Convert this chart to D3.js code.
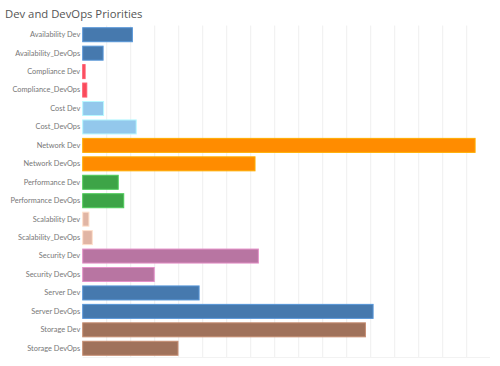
<!DOCTYPE html>
<html><head><meta charset="utf-8">
<script src="https://cdn.jsdelivr.net/npm/d3@7"></script>
<style>body{margin:0;background:#fff}svg{display:block}</style>
</head><body>
<svg id="c" width="500" height="366"></svg>
<script>
const categories = ["Availability Dev","Availability_DevOps","Compliance Dev","Compliance_DevOps","Cost Dev","Cost_DevOps","Network Dev","Network DevOps","Performance Dev","Performance DevOps","Scalability Dev","Scalability_DevOps","Security Dev","Security DevOps","Server Dev","Server DevOps","Storage Dev","Storage DevOps"];
const values = [20.7, 8.5, 1, 1.7, 8.7, 22.3, 163.5, 71.8, 14.8, 17.1, 2.6, 4, 73.2, 29.8, 48.5, 121, 117.8, 39.7];
const groups = ["Availability","Availability","Compliance","Compliance","Cost","Cost","Network","Network","Performance","Performance","Scalability","Scalability","Security","Security","Server","Server","Storage","Storage"];
const groupNames = ["Availability","Compliance","Cost","Network","Performance","Scalability","Security","Server","Storage"];
const groupColors = ["#4679ae","#f94a5a","#93c8ec","#ff8c00","#3da447","#e1b5a4","#b875a2","#4679ae","#a0725b"];
const gridTicks = d3.range(0, 170, 10);

const svg = d3.select("#c");
const mLeft = 82.7, mRight = 490, mTop = 25.5, mBottom = 357.5;
const x = d3.scaleLinear().domain([0, 168]).range([mLeft, mLeft + 168*2.4]);
const y = d3.scaleBand().domain(categories).range([mTop, mBottom]).paddingInner(0.24).paddingOuter(0.12);
const color = d3.scaleOrdinal().domain(groupNames).range(groupColors);

svg.append("text").attr("x", 5).attr("y", 18).text("Dev and DevOps Priorities")
  .attr("font-family", "Open Sans, sans-serif").attr("font-size", 11.3).attr("fill", "#555");

svg.append("g").selectAll("line").data(gridTicks.slice(1)).join("line")
  .attr("x1", d => x(d)).attr("x2", d => x(d)).attr("y1", mTop).attr("y2", mBottom)
  .attr("stroke", "#efefef").attr("stroke-width", 1);
svg.append("line").attr("x1", mLeft).attr("x2", mRight).attr("y1", mBottom).attr("y2", mBottom)
  .attr("stroke", "#f2f2f2");

svg.append("g").selectAll("rect").data(categories).join("rect")
  .attr("x", x(0)).attr("y", d => y(d))
  .attr("width", (d,i) => x(values[i]) - x(0)).attr("height", y.bandwidth())
  .attr("fill", (d,i) => color(groups[i]))
  .attr("stroke", (d,i) => d3.color(color(groups[i])).brighter(0.6))
  .attr("stroke-width", 1);

const yAxis = d3.axisLeft(y).tickSize(0).tickPadding(0);
const ga = svg.append("g").attr("transform", `translate(${mLeft - 2.5},0)`).call(yAxis);
ga.select(".domain").remove();
ga.selectAll("text").attr("font-family", "Lato, sans-serif").attr("font-size", 7.4).attr("fill", "#777");
</script>
</body></html>
